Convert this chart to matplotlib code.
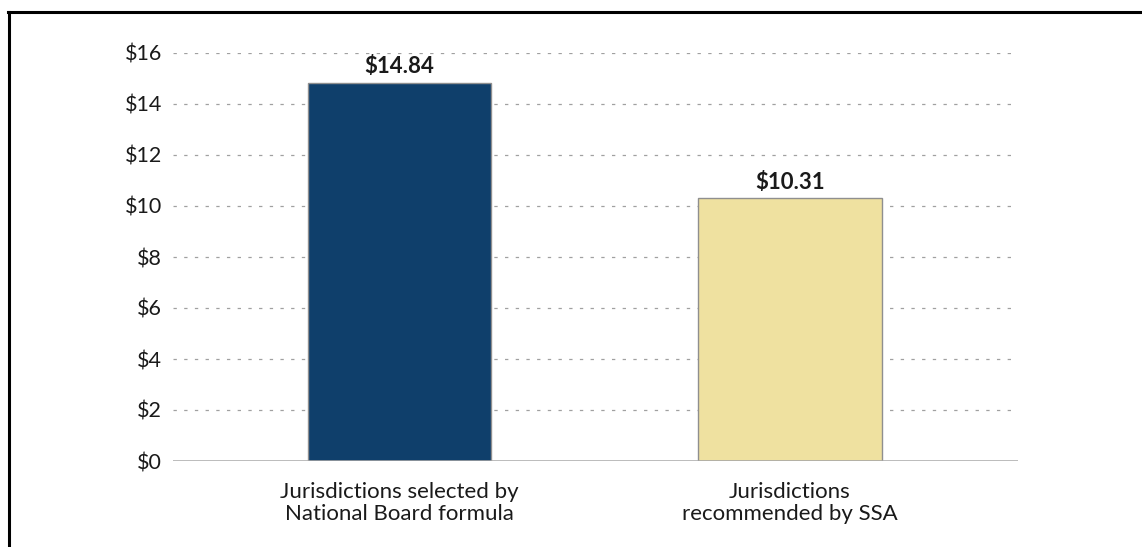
import matplotlib
matplotlib.use("Agg")
import matplotlib.pyplot as plt
from matplotlib.lines import Line2D

categories = ["Jurisdictions selected by\nNational Board formula",
              "Jurisdictions\nrecommended by SSA"]
values = [14.84, 10.31]
value_labels = ["$14.84", "$10.31"]
yticks = [0, 2, 4, 6, 8, 10, 12, 14, 16]
ytick_labels = ["$0", "$2", "$4", "$6", "$8", "$10", "$12", "$14", "$16"]
colors = ["#0f3f6b", "#efe1a0"]

plt.rcParams['font.family'] = ['Lato', 'DejaVu Sans']
plt.rcParams['lines.scale_dashes'] = False

fig = plt.figure(figsize=(11.42, 5.47), dpi=100)
ax = fig.add_axes([173/1142, 86/547, (1018-173)/1142, (461-53)/547])

x = list(range(len(categories)))
ax.bar(x, values, width=0.469, color=colors, edgecolor="#8f8f8f",
       linewidth=1.0, zorder=3)

ax.set_ylim(0, 16)
ax.set_xlim(-0.58, 1.584)
ax.set_yticks(yticks)
ax.set_yticklabels(ytick_labels, fontsize=15.5)
ax.set_xticks(x)
ax.set_xticklabels(categories, linespacing=1.15, fontsize=16)
ax.tick_params(axis='both', length=0, colors="#1a1a1a")
ax.tick_params(axis='y', pad=8)
ax.tick_params(axis='x', pad=15)

for t in yticks[1:]:
    ax.axhline(t, color="#a0a0a0", linewidth=0.9, linestyle=(0, (2.4, 5.3)), zorder=1)
ax.axhline(0, color="#a8a8a8", linewidth=1.8, zorder=4)

for s in ax.spines.values():
    s.set_visible(False)

for xi, v, lab in zip(x, values, value_labels):
    ax.text(xi, v + 0.2, lab, ha='center', va='bottom', fontsize=16,
            fontweight='bold', color="#1a1a1a")

# frame lines (top and left)
fig.add_artist(Line2D([8/1142, 1.0], [1 - 11.5/547, 1 - 11.5/547],
                      color="black", linewidth=2.2, transform=fig.transFigure))
fig.add_artist(Line2D([8.5/1142, 8.5/1142], [0, 1 - 11.5/547],
                      color="black", linewidth=2.2, transform=fig.transFigure))

fig.savefig("out.png", dpi=100)
